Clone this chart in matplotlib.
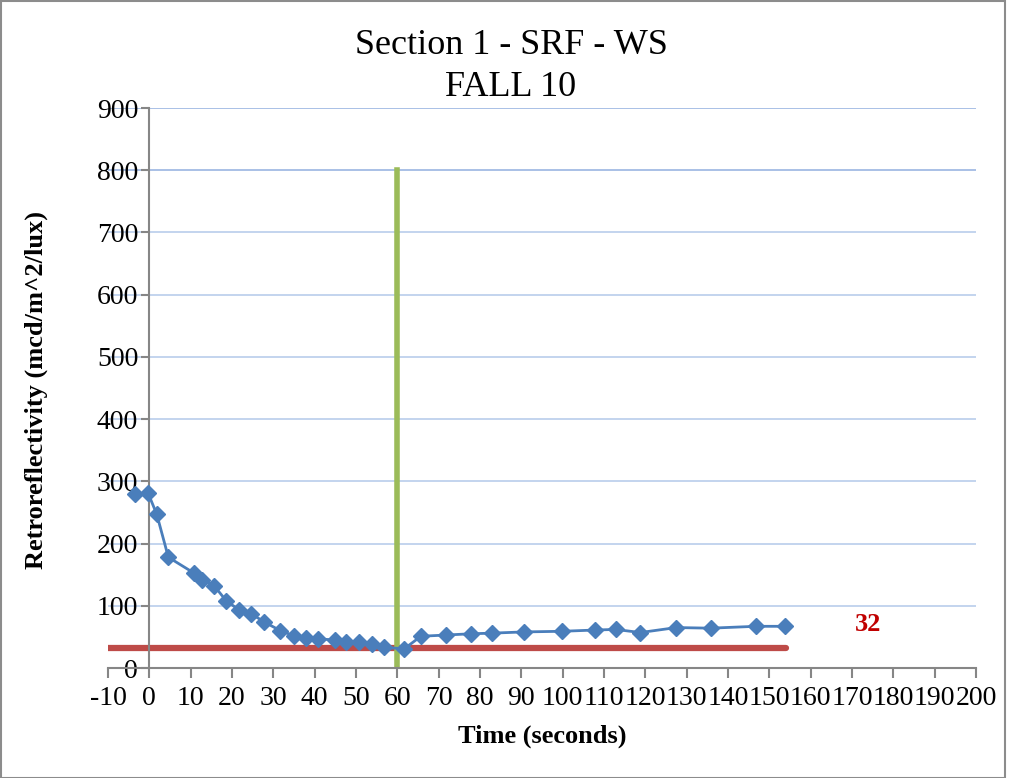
import matplotlib
matplotlib.use("Agg")
import matplotlib.pyplot as plt
from matplotlib.patches import Rectangle

time_s = [-3.4, -0.3, 1.8, 4.6, 10.7, 12.8, 15.7, 18.6, 21.8, 24.7, 27.8, 31.7,
          34.9, 37.8, 40.8, 44.8, 47.7, 50.7, 53.8, 56.7, 61.7, 65.7, 71.8, 77.8,
          82.8, 90.7, 99.8, 107.8, 112.8, 118.8, 127.5, 135.8, 146.7, 153.8]
retro = [279, 281, 247, 178, 153, 142, 132, 108, 93, 87, 74, 60,
         52, 48, 47, 45, 42, 41, 38, 33, 31, 51, 53, 55,
         56, 58, 59, 61, 62, 57, 65, 64, 67, 67]
threshold = 32
threshold_x = [-10, 154]
vline_x = 60
vline_y = [0, 800]
xticks = list(range(-10, 201, 10))
yticks = list(range(0, 901, 100))

plt.rcParams['font.family'] = ['Liberation Serif', 'DejaVu Serif']
plt.rcParams['axes.unicode_minus'] = False

fig = plt.figure(figsize=(10.16, 7.78), dpi=100)
ax = fig.add_axes([108/1016, 1 - 668/778, (976-108)/1016, (668-108)/778])

ax.set_xlim(-10, 200)
ax.set_ylim(0, 900)

for y in yticks[1:]:
    ax.axhline(y, color='#a9c0e6' if y >= 800 else '#c3d4ee', lw=1.4, zorder=0)

ax.plot(threshold_x, [threshold, threshold], color='#be4b48', lw=4.5,
        solid_capstyle='round', zorder=2)
ax.plot([vline_x, vline_x], vline_y, color='#9bbb59', lw=4, zorder=2)
ax.plot(time_s, retro, color='#4a7ebb', lw=2, marker='D', markersize=8,
        markerfacecolor='#4a7ebb', markeredgecolor='#4a7ebb', zorder=3)
ax.text(174, 70, str(threshold), color='#c00000', fontsize=19, fontweight='bold',
        ha='center', va='center')

for s in ['top', 'right']:
    ax.spines[s].set_visible(False)
ax.spines['left'].set_position(('data', 0))
ax.spines['left'].set_color('#868686')
ax.spines['bottom'].set_color('#868686')
ax.spines['left'].set_linewidth(1.5)
ax.spines['bottom'].set_linewidth(1.5)

ax.set_xticks(xticks)
ax.set_yticks(yticks)
ax.tick_params(axis='both', colors='#868686', labelcolor='black', labelsize=20,
               length=7, width=1.5, direction='out')
ax.tick_params(axis='y', length=6, pad=2)
ax.tick_params(axis='x', pad=6)

ax.set_xlabel('Time (seconds)', fontsize=19, fontweight='bold', labelpad=10)
fig.text(36/1016, (778-390)/778, 'Retroreflectivity (mcd/m^2/lux)', rotation=90,
         fontsize=19, fontweight='bold', ha='center', va='center')

fig.text(511/1016, 1 - 45/778, 'Section 1 - SRF - WS', fontsize=26, ha='center', va='center')
fig.text(511/1016, 1 - 87/778, 'FALL 10', fontsize=26, ha='center', va='center')

fig.patches.append(Rectangle((0.5/1016, 0), 1004/1016, 1 - 1/778, transform=fig.transFigure,
                             fill=False, edgecolor='#8c8c8c', lw=1.5))

fig.savefig('out.png', dpi=100)
